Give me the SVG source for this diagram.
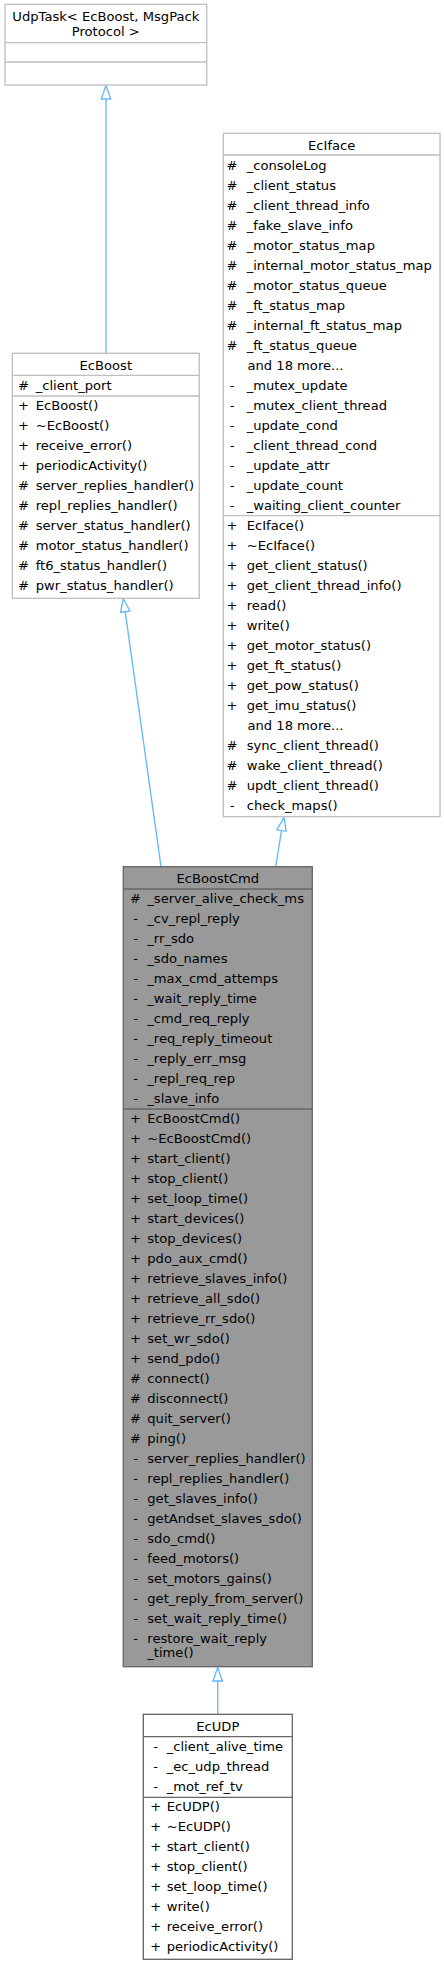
<svg xmlns="http://www.w3.org/2000/svg" width="444" height="1965" viewBox="0 0 444 1965">
<style>
text{font-family:"DejaVu Sans","Liberation Sans",sans-serif;font-size:13.1px;fill:#000}
.c{text-anchor:middle}
.box{fill:#fff;stroke:#bfbfbf;stroke-width:1.33}
.box2{fill:#fff;stroke:#666;stroke-width:1.33}
.hl{fill:#999;stroke:#666;stroke-width:1.33}
.sep{stroke:#bfbfbf;stroke-width:1.33}
.sep2{stroke:#666;stroke-width:1.33}
.edge{stroke:#63b8ff;stroke-width:1.33;fill:none}
.ah{stroke:#63b8ff;stroke-width:1.33;fill:#fff}
</style>
<rect width="444" height="1965" fill="#fff"/>
<g id="connectors">
<path class="edge" d="M106,353.3 L106,99"/>
<polygon class="ah" points="106,85.3 110.7,99 101.3,99"/>
<path class="edge" d="M161,866.7 L125.2,611.7"/>
<polygon class="ah" points="123.3,598.5 129.9,611 120.6,612.4"/>
<path class="edge" d="M275.7,866.7 L281.5,830.5"/>
<polygon class="ah" points="284,817.5 286.1,831.3 276.8,829.8"/>
<path class="edge" d="M217.7,1714.3 L217.7,1681"/>
<polygon class="ah" points="217.7,1667.5 222.4,1681 213,1681"/>
</g>
<g id="UdpTask">
<rect class="box" x="5" y="4.3" width="201.7" height="80.7"/>
<text class="c" x="105.8" y="20.7">UdpTask&lt; EcBoost, MsgPack</text>
<text class="c" x="105.8" y="35.7">Protocol &gt;</text>
<path class="sep" d="M5,42.7H206.7M5,62H206.7"/>
</g>
<g id="EcBoost">
<rect class="box" x="12.3" y="353.3" width="187" height="245"/>
<text class="c" x="105.8" y="369.5">EcBoost</text>
<path class="sep" d="M12.3,375.3H199.3M12.3,396H199.3"/>
<g class="c">
<text x="23.5" y="389.5">#</text>
<text x="23.5" y="409.5">+</text><text x="23.5" y="429.5">+</text><text x="23.5" y="449.5">+</text><text x="23.5" y="469.5">+</text>
<text x="23.5" y="489.5">#</text><text x="23.5" y="509.5">#</text><text x="23.5" y="529.5">#</text><text x="23.5" y="549.5">#</text><text x="23.5" y="569.5">#</text><text x="23.5" y="589.5">#</text>
</g>
<text x="35.7" y="389.5">_client_port</text>
<text x="35.7" y="409.5">EcBoost()</text>
<text x="35.7" y="429.5">~EcBoost()</text>
<text x="35.7" y="449.5">receive_error()</text>
<text x="35.7" y="469.5">periodicActivity()</text>
<text x="35.7" y="489.5">server_replies_handler()</text>
<text x="35.7" y="509.5">repl_replies_handler()</text>
<text x="35.7" y="529.5">server_status_handler()</text>
<text x="35.7" y="549.5">motor_status_handler()</text>
<text x="35.7" y="569.5">ft6_status_handler()</text>
<text x="35.7" y="589.5">pwr_status_handler()</text>
</g>
<g id="EcIface">
<rect class="box" x="223.3" y="133.3" width="216.7" height="683.4"/>
<text class="c" x="331.7" y="149.5">EcIface</text>
<path class="sep" d="M223.3,155H440M223.3,515.7H440"/>
<g class="c">
<text x="232" y="169.5">#</text><text x="232" y="189.5">#</text><text x="232" y="209.5">#</text><text x="232" y="229.5">#</text><text x="232" y="249.5">#</text>
<text x="232" y="269.5">#</text><text x="232" y="289.5">#</text><text x="232" y="309.5">#</text><text x="232" y="329.5">#</text><text x="232" y="349.5">#</text>
<text x="232" y="389.5">-</text><text x="232" y="409.5">-</text><text x="232" y="429.5">-</text><text x="232" y="449.5">-</text><text x="232" y="469.5">-</text><text x="232" y="489.5">-</text><text x="232" y="509.5">-</text>
<text x="232" y="529.5">+</text><text x="232" y="549.5">+</text><text x="232" y="569.5">+</text><text x="232" y="589.5">+</text><text x="232" y="609.5">+</text>
<text x="232" y="629.5">+</text><text x="232" y="649.5">+</text><text x="232" y="669.5">+</text><text x="232" y="689.5">+</text><text x="232" y="709.5">+</text>
<text x="232" y="749.5">#</text><text x="232" y="769.5">#</text><text x="232" y="789.5">#</text><text x="232" y="809.5">-</text>
</g>
<text x="246.7" y="169.5">_consoleLog</text>
<text x="246.7" y="189.5">_client_status</text>
<text x="246.7" y="209.5">_client_thread_info</text>
<text x="246.7" y="229.5">_fake_slave_info</text>
<text x="246.7" y="249.5">_motor_status_map</text>
<text x="246.7" y="269.5">_internal_motor_status_map</text>
<text x="246.7" y="289.5">_motor_status_queue</text>
<text x="246.7" y="309.5">_ft_status_map</text>
<text x="246.7" y="329.5">_internal_ft_status_map</text>
<text x="246.7" y="349.5">_ft_status_queue</text>
<text x="247.5" y="369.5">and 18 more...</text>
<text x="246.7" y="389.5">_mutex_update</text>
<text x="246.7" y="409.5">_mutex_client_thread</text>
<text x="246.7" y="429.5">_update_cond</text>
<text x="246.7" y="449.5">_client_thread_cond</text>
<text x="246.7" y="469.5">_update_attr</text>
<text x="246.7" y="489.5">_update_count</text>
<text x="246.7" y="509.5">_waiting_client_counter</text>
<text x="246.7" y="529.5">EcIface()</text>
<text x="246.7" y="549.5">~EcIface()</text>
<text x="246.7" y="569.5">get_client_status()</text>
<text x="246.7" y="589.5">get_client_thread_info()</text>
<text x="246.7" y="609.5">read()</text>
<text x="246.7" y="629.5">write()</text>
<text x="246.7" y="649.5">get_motor_status()</text>
<text x="246.7" y="669.5">get_ft_status()</text>
<text x="246.7" y="689.5">get_pow_status()</text>
<text x="246.7" y="709.5">get_imu_status()</text>
<text x="247.5" y="729.5">and 18 more...</text>
<text x="246.7" y="749.5">sync_client_thread()</text>
<text x="246.7" y="769.5">wake_client_thread()</text>
<text x="246.7" y="789.5">updt_client_thread()</text>
<text x="246.7" y="809.5">check_maps()</text>
</g>
<g id="EcBoostCmd">
<rect class="hl" x="123.3" y="866.7" width="189" height="800"/>
<text class="c" x="217.8" y="882.8">EcBoostCmd</text>
<path class="sep2" d="M123.3,889H312.3M123.3,1109H312.3"/>
<g class="c">
<text x="135.5" y="902.8">#</text>
<text x="135.5" y="922.8">-</text><text x="135.5" y="942.8">-</text><text x="135.5" y="962.8">-</text><text x="135.5" y="982.8">-</text><text x="135.5" y="1002.8">-</text>
<text x="135.5" y="1022.8">-</text><text x="135.5" y="1042.8">-</text><text x="135.5" y="1062.8">-</text><text x="135.5" y="1082.8">-</text><text x="135.5" y="1102.8">-</text>
<text x="135.5" y="1122.8">+</text><text x="135.5" y="1142.8">+</text><text x="135.5" y="1162.8">+</text><text x="135.5" y="1182.8">+</text><text x="135.5" y="1202.8">+</text>
<text x="135.5" y="1222.8">+</text><text x="135.5" y="1242.8">+</text><text x="135.5" y="1262.8">+</text><text x="135.5" y="1282.8">+</text><text x="135.5" y="1302.8">+</text>
<text x="135.5" y="1322.8">+</text><text x="135.5" y="1342.8">+</text><text x="135.5" y="1362.8">+</text>
<text x="135.5" y="1382.8">#</text><text x="135.5" y="1402.8">#</text><text x="135.5" y="1422.8">#</text><text x="135.5" y="1442.8">#</text>
<text x="135.5" y="1462.8">-</text><text x="135.5" y="1482.8">-</text><text x="135.5" y="1502.8">-</text><text x="135.5" y="1522.8">-</text><text x="135.5" y="1542.8">-</text>
<text x="135.5" y="1562.8">-</text><text x="135.5" y="1582.8">-</text><text x="135.5" y="1602.8">-</text><text x="135.5" y="1622.8">-</text><text x="135.5" y="1642.8">-</text>
</g>
<text x="147.3" y="902.8">_server_alive_check_ms</text>
<text x="147.3" y="922.8">_cv_repl_reply</text>
<text x="147.3" y="942.8">_rr_sdo</text>
<text x="147.3" y="962.8">_sdo_names</text>
<text x="147.3" y="982.8">_max_cmd_attemps</text>
<text x="147.3" y="1002.8">_wait_reply_time</text>
<text x="147.3" y="1022.8">_cmd_req_reply</text>
<text x="147.3" y="1042.8">_req_reply_timeout</text>
<text x="147.3" y="1062.8">_reply_err_msg</text>
<text x="147.3" y="1082.8">_repl_req_rep</text>
<text x="147.3" y="1102.8">_slave_info</text>
<text x="147.3" y="1122.8">EcBoostCmd()</text>
<text x="147.3" y="1142.8">~EcBoostCmd()</text>
<text x="147.3" y="1162.8">start_client()</text>
<text x="147.3" y="1182.8">stop_client()</text>
<text x="147.3" y="1202.8">set_loop_time()</text>
<text x="147.3" y="1222.8">start_devices()</text>
<text x="147.3" y="1242.8">stop_devices()</text>
<text x="147.3" y="1262.8">pdo_aux_cmd()</text>
<text x="147.3" y="1282.8">retrieve_slaves_info()</text>
<text x="147.3" y="1302.8">retrieve_all_sdo()</text>
<text x="147.3" y="1322.8">retrieve_rr_sdo()</text>
<text x="147.3" y="1342.8">set_wr_sdo()</text>
<text x="147.3" y="1362.8">send_pdo()</text>
<text x="147.3" y="1382.8">connect()</text>
<text x="147.3" y="1402.8">disconnect()</text>
<text x="147.3" y="1422.8">quit_server()</text>
<text x="147.3" y="1442.8">ping()</text>
<text x="147.3" y="1462.8">server_replies_handler()</text>
<text x="147.3" y="1482.8">repl_replies_handler()</text>
<text x="147.3" y="1502.8">get_slaves_info()</text>
<text x="147.3" y="1522.8">getAndset_slaves_sdo()</text>
<text x="147.3" y="1542.8">sdo_cmd()</text>
<text x="147.3" y="1562.8">feed_motors()</text>
<text x="147.3" y="1582.8">set_motors_gains()</text>
<text x="147.3" y="1602.8">get_reply_from_server()</text>
<text x="147.3" y="1622.8">set_wait_reply_time()</text>
<text x="147.3" y="1642.8">restore_wait_reply</text>
<text x="147.3" y="1657">_time()</text>
</g>
<g id="EcUDP">
<rect class="box2" x="143.3" y="1714.3" width="149" height="245"/>
<text class="c" x="217.8" y="1730.5">EcUDP</text>
<path class="sep2" d="M143.3,1736.7H292.3M143.3,1797.3H292.3"/>
<g class="c">
<text x="155.7" y="1750.5">-</text><text x="155.7" y="1770.5">-</text><text x="155.7" y="1790.5">-</text>
<text x="155.7" y="1811.2">+</text><text x="155.7" y="1831.2">+</text><text x="155.7" y="1851.2">+</text><text x="155.7" y="1871.2">+</text>
<text x="155.7" y="1891.2">+</text><text x="155.7" y="1911.2">+</text><text x="155.7" y="1931.2">+</text><text x="155.7" y="1951.2">+</text>
</g>
<text x="166.7" y="1750.5">_client_alive_time</text>
<text x="166.7" y="1770.5">_ec_udp_thread</text>
<text x="166.7" y="1790.5">_mot_ref_tv</text>
<text x="166.7" y="1811.2">EcUDP()</text>
<text x="166.7" y="1831.2">~EcUDP()</text>
<text x="166.7" y="1851.2">start_client()</text>
<text x="166.7" y="1871.2">stop_client()</text>
<text x="166.7" y="1891.2">set_loop_time()</text>
<text x="166.7" y="1911.2">write()</text>
<text x="166.7" y="1931.2">receive_error()</text>
<text x="166.7" y="1951.2">periodicActivity()</text>
</g>
</svg>
